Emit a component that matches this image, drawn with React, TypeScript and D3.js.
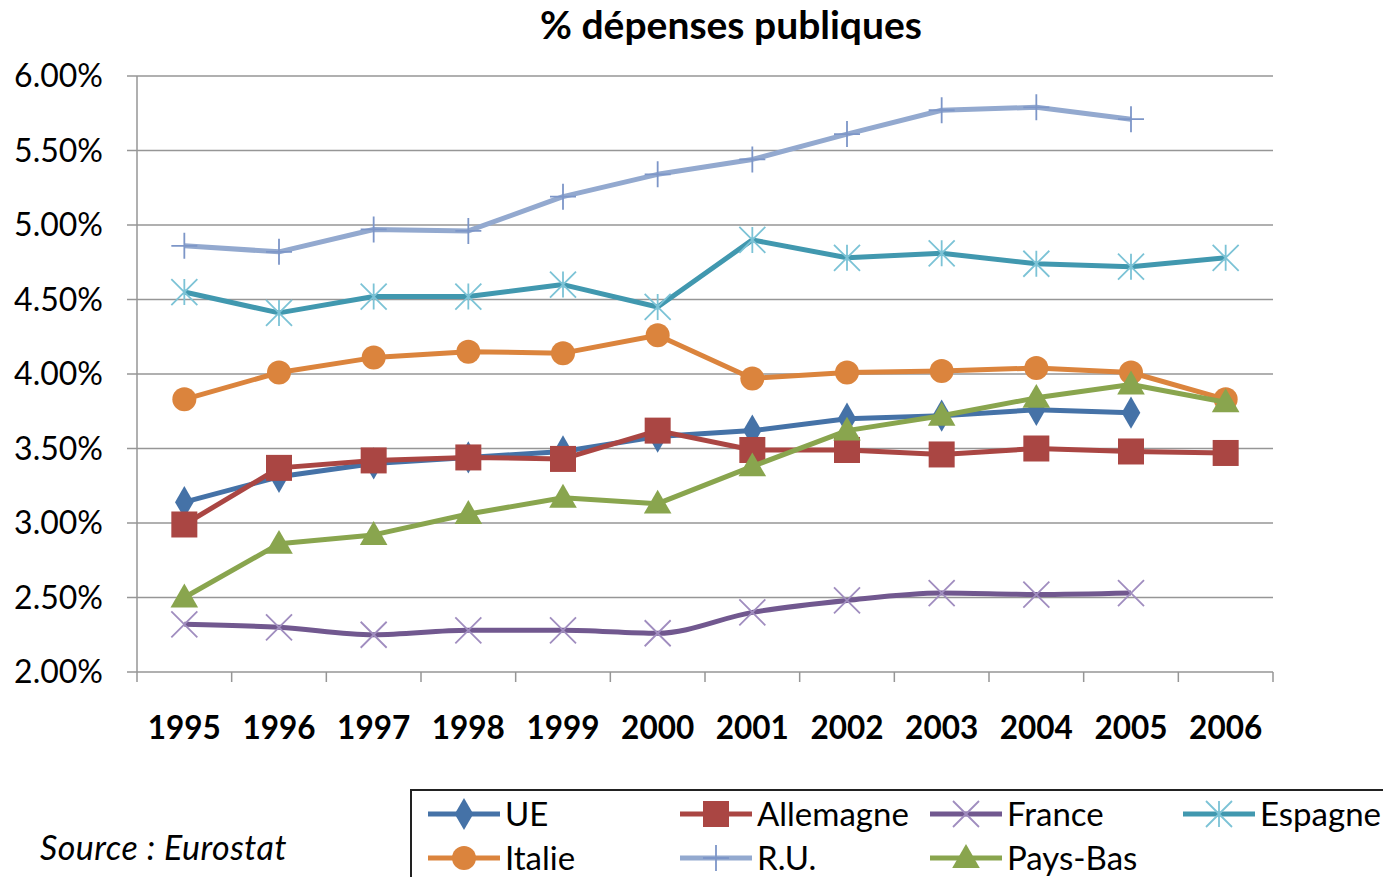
import * as d3 from 'd3';

const years = ['1995', '1996', '1997', '1998', '1999', '2000', '2001', '2002', '2003', '2004', '2005', '2006'];

// % values, null = no data
const ue = [3.14, 3.31, 3.40, 3.44, 3.48, 3.58, 3.62, 3.70, 3.72, 3.76, 3.74, null];
const allemagne = [2.99, 3.37, 3.42, 3.44, 3.43, 3.62, 3.49, 3.49, 3.46, 3.50, 3.48, 3.47];
const france = [2.32, 2.30, 2.25, 2.28, 2.28, 2.26, 2.40, 2.48, 2.53, 2.52, 2.53, null];
const espagne = [4.55, 4.41, 4.52, 4.52, 4.60, 4.45, 4.90, 4.78, 4.81, 4.74, 4.72, 4.78];
const italie = [3.83, 4.01, 4.11, 4.15, 4.14, 4.26, 3.97, 4.01, 4.02, 4.04, 4.01, 3.83];
const ru = [4.86, 4.82, 4.97, 4.96, 5.19, 5.34, 5.44, 5.61, 5.77, 5.79, 5.71, null];
const paysBas = [2.50, 2.86, 2.92, 3.06, 3.17, 3.13, 3.38, 3.62, 3.72, 3.84, 3.93, 3.81];

const yTicks = [2, 2.5, 3, 3.5, 4, 4.5, 5, 5.5, 6];

type Marker = 'diamond' | 'square' | 'x' | 'asterisk' | 'circle' | 'plus' | 'triangle';

const series: { name: string; values: (number | null)[]; color: string; mark: string; marker: Marker; smooth?: boolean }[] = [
  { name: 'UE', values: ue, color: '#4572A7', mark: '#4572A7', marker: 'diamond' },
  { name: 'Allemagne', values: allemagne, color: '#AA4643', mark: '#AA4643', marker: 'square' },
  { name: 'France', values: france, color: '#71588F', mark: '#A08DBF', marker: 'x', smooth: true },
  { name: 'Espagne', values: espagne, color: '#4198AF', mark: '#7CC3D6', marker: 'asterisk' },
  { name: 'Italie', values: italie, color: '#DB843D', mark: '#DB843D', marker: 'circle' },
  { name: 'R.U.', values: ru, color: '#93A9CF', mark: '#7D96C8', marker: 'plus' },
  { name: 'Pays-Bas', values: paysBas, color: '#89A54E', mark: '#89A54E', marker: 'triangle' },
];

const W = 1383;
const H = 877;
const m = { left: 137, right: 1273, top: 76, bottom: 672 };
const font = 'Lato, "Open Sans", sans-serif';

const MarkerShape = ({ type, x, y, color }: { type: Marker; x: number; y: number; color: string }) => {
  const s = 13;
  switch (type) {
    case 'diamond':
      return <path d={d3.symbol(d3.symbolDiamond, 300)()!} transform={`translate(${x},${y})`} fill={color} />;
    case 'square':
      return <rect x={x - s} y={y - s} width={2 * s} height={2 * s} fill={color} />;
    case 'circle':
      return <circle cx={x} cy={y} r={12} fill={color} />;
    case 'triangle':
      return <path d={d3.symbol(d3.symbolTriangle, 330)()!} transform={`translate(${x},${y + 2})`} fill={color} />;
    case 'x':
      return (
        <path d={`M${x - s},${y - s}L${x + s},${y + s}M${x - s},${y + s}L${x + s},${y - s}`} stroke={color} strokeWidth={1.8} />
      );
    case 'asterisk':
      return (
        <path
          d={`M${x - s},${y - s}L${x + s},${y + s}M${x - s},${y + s}L${x + s},${y - s}M${x},${y - s}L${x},${y + s}`}
          stroke={color}
          strokeWidth={1.8}
        />
      );
    case 'plus':
      return <path d={`M${x - s},${y}L${x + s},${y}M${x},${y - s}L${x},${y + s}`} stroke={color} strokeWidth={1.8} />;
  }
};

export default function App() {
  const x = d3.scaleBand().domain(years).range([m.left, m.right]);
  const y = d3.scaleLinear().domain([2, 6]).range([m.bottom, m.top]);
  const cx = (yr: string) => x(yr)! + x.bandwidth() / 2;

  const lineFor = (smooth?: boolean) =>
    d3
      .line<number | null>()
      .defined((d) => d != null)
      .x((_, i) => cx(years[i]))
      .y((d) => y(d as number))
      .curve(smooth ? d3.curveMonotoneX : d3.curveLinear);

  const legendCols = [428, 680, 930, 1183];
  const legendRows = [814, 858];

  return (
    <svg width={W} height={H} style={{ position: 'absolute', left: 0, top: 0 }} fontFamily={font}>
      <rect width={W} height={H} fill="#fff" />
      <text x={731} y={39} textAnchor="middle" fontSize={39} fontWeight="bold" fill="#000">
        % dépenses publiques
      </text>

      {/* grid + y axis */}
      {yTicks.map((t) => (
        <g key={t}>
          <line x1={m.left - 10} x2={m.right} y1={y(t)} y2={y(t)} stroke="#969696" strokeWidth={1.5} />
          <text x={103} y={y(t) + 11} textAnchor="end" fontSize={32} fill="#000">
            {t.toFixed(2)}%
          </text>
        </g>
      ))}
      <line x1={m.left} x2={m.left} y1={m.top} y2={m.bottom} stroke="#969696" strokeWidth={1.5} />

      {/* x axis */}
      {years.map((yr) => (
        <g key={yr}>
          <line x1={x(yr)!} x2={x(yr)!} y1={m.bottom} y2={m.bottom + 10} stroke="#969696" strokeWidth={1.5} />
          <text x={cx(yr)} y={739} textAnchor="middle" fontSize={31.5} fontWeight="bold" fill="#000">
            {yr}
          </text>
        </g>
      ))}
      <line x1={m.right} x2={m.right} y1={m.bottom} y2={m.bottom + 10} stroke="#969696" strokeWidth={1.5} />

      {/* series */}
      {series.map((s) => (
        <g key={s.name}>
          <path d={lineFor(s.smooth)(s.values)!} fill="none" stroke={s.color} strokeWidth={5} strokeLinejoin="round" />
          {s.values.map((v, i) =>
            v == null ? null : <MarkerShape key={i} type={s.marker} x={cx(years[i])} y={y(v)} color={s.mark} />
          )}
        </g>
      ))}

      {/* legend */}
      <rect x={411} y={790} width={1000} height={120} fill="#fff" stroke="#222" strokeWidth={2} />
      {series.map((s, i) => {
        const lx = legendCols[i % 4];
        const ly = legendRows[Math.floor(i / 4)];
        return (
          <g key={s.name}>
            <line x1={lx} x2={lx + 72} y1={ly} y2={ly} stroke={s.color} strokeWidth={5} />
            <MarkerShape type={s.marker} x={lx + 36} y={ly} color={s.mark} />
            <text x={lx + 77} y={ly + 12} fontSize={33} fill="#000">
              {s.name}
            </text>
          </g>
        );
      })}

      <text x={40} y={860} fontSize={34} fontStyle="italic" fill="#000" letterSpacing={0.5}>
        Source : Eurostat
      </text>
    </svg>
  );
}
